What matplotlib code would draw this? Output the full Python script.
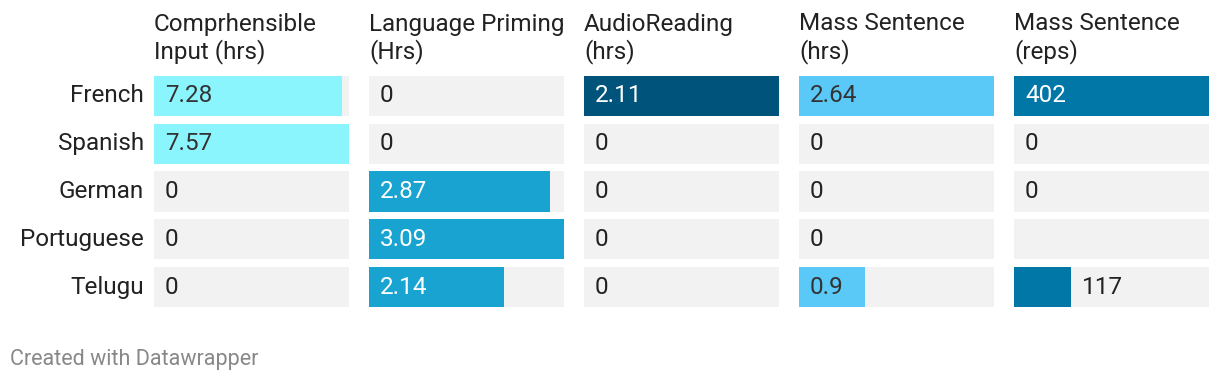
import numpy as np
import matplotlib
matplotlib.use("Agg")
import matplotlib.pyplot as plt

plt.rcParams['font.family'] = ['Roboto', 'DejaVu Sans']

languages = ['French', 'Spanish', 'German', 'Portuguese', 'Telugu']
headers = [('Comprhensible', 'Input (hrs)'), ('Language Priming', '(Hrs)'),
           ('AudioReading', '(hrs)'), ('Mass Sentence', '(hrs)'), ('Mass Sentence', '(reps)')]
comprehensible = [7.28, 7.57, 0, 0, 0]
priming = [0, 0, 2.87, 3.09, 2.14]
audio_reading = [2.11, 0, 0, 0, 0]
mass_hrs = [2.64, 0, 0, 0, 0.9]
mass_reps = [402, 0, 0, np.nan, 117]
labels = [
    ['7.28', '7.57', '0', '0', '0'],
    ['0', '0', '2.87', '3.09', '2.14'],
    ['2.11', '0', '0', '0', '0'],
    ['2.64', '0', '0', '0', '0.9'],
    ['402', '0', '0', '', '117'],
]
series = [comprehensible, priming, audio_reading, mass_hrs, mass_reps]
colors = ['#8af5fd', '#18a3d0', '#00547c', '#5ac9f7', '#0077a6']
text_on_bar = ['#333333', 'white', 'white', '#333333', 'white']

W, H = 1220, 384
fig = plt.figure(figsize=(W / 100, H / 100), dpi=100)

lefts = [154, 369, 584, 799, 1014]
col_w = 195
top, height = 72, 239
fs = 17.5

for j, vals in enumerate(series):
    ax = fig.add_axes([lefts[j] / W, 1 - (top + height) / H, col_w / W, height / H])
    vmax = np.nanmax(vals)
    y = np.arange(len(languages))
    ax.barh(y, [vmax] * len(y), height=0.838, color='#f2f2f2', left=0)
    v = np.nan_to_num(np.array(vals, dtype=float))
    ax.barh(y, v, height=0.838, color=colors[j])
    ax.set_xlim(0, vmax)
    ax.set_ylim(4.5, -0.5)
    ax.axis('off')
    pad = 11 / col_w * vmax
    for i, val in enumerate(v):
        lab = labels[j][i]
        if not lab:
            continue
        if val == 0:
            ax.text(pad, i, lab, va='center', ha='left', fontsize=fs, color='#222222')
        elif val / vmax < 0.3:
            ax.text(val + pad, i, lab, va='center', ha='left', fontsize=fs, color='#222222')
        else:
            ax.text(pad, i, lab, va='center', ha='left', fontsize=fs, color=text_on_bar[j])
    for k, line in enumerate(headers[j]):
        fig.text(lefts[j] / W, 1 - (24 + 28 * k) / H, line, ha='left', va='center',
                 fontsize=fs, color='#222222')

ax0 = fig.axes[0]
for i, lang in enumerate(languages):
    ax0.text(-10 / col_w * max(comprehensible), i, lang, ha='right', va='center',
             fontsize=fs, color='#222222')

fig.text(10 / W, 1 - 360 / H, 'Created with Datawrapper', ha='left', va='center',
         fontsize=15.5, color='#888888')

fig.savefig('out.png', dpi=100)
